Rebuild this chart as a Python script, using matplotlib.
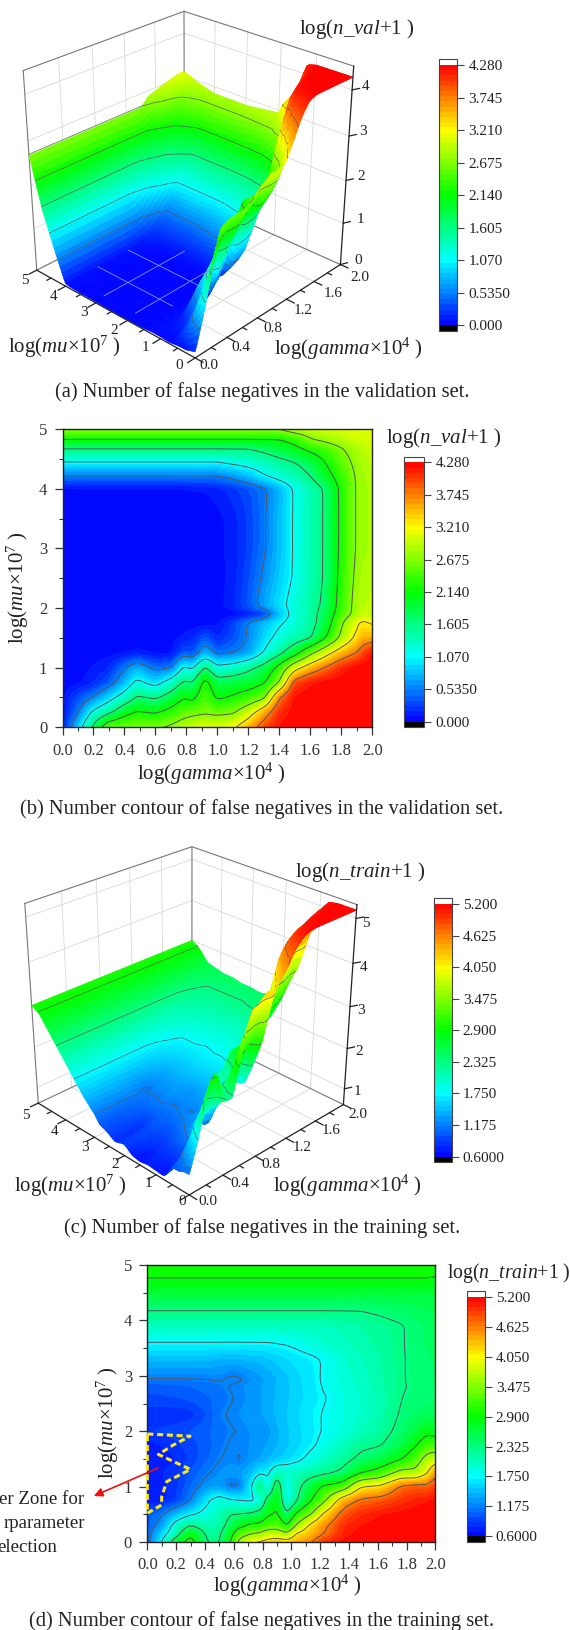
import numpy as np
import matplotlib
matplotlib.use('Agg')
import matplotlib.pyplot as plt
from matplotlib.colors import LinearSegmentedColormap, Normalize
from mpl_toolkits.mplot3d import proj3d
from mpl_toolkits.mplot3d.art3d import Poly3DCollection

plt.rcParams['font.family'] = ['Liberation Serif', 'DejaVu Serif']
plt.rcParams['mathtext.fontset'] = 'custom'
plt.rcParams['mathtext.rm'] = 'Liberation Serif'
plt.rcParams['mathtext.it'] = 'Liberation Serif:italic'
plt.rcParams['mathtext.bf'] = 'Liberation Serif:bold'

# ---------------- data ----------------
gamma_val = [0, .1, .2, .3, .4, .48, .6, .7, .78, .84, .92, 1.0, 1.1, 1.2, 1.3, 1.4, 1.5, 1.6, 1.7, 1.8, 1.9, 1.94, 2.0]
mu_val = [0, .25, .5, .75, 1, 1.25, 1.5, 1.75, 1.9, 2.05, 2.5, 3, 3.5, 4, 4.22, 4.45, 4.67, 4.83, 5]
n_val = [
    [.11, .86, 1.71, 2.57, 2.62, 2.64, 2.65, 2.76, 2.91, 3.0, 3.10, 3.10, 3.16, 3.53, 3.96, 4.22] + [4.27] * 7,
    [.05, .50, 1.18, 1.50, 1.98, 2.19, 2.10, 2.30, 2.51, 2.57, 2.62, 2.57, 2.62, 3.0, 3.53, 4.10, 4.25] + [4.27] * 6,
    [.05, .32, .54, .91, 1.28, 1.66, 1.55, 1.82, 2.12, 2.03, 2.46, 2.07, 2.19, 2.35, 2.57, 3.75, 4.25] + [4.27] * 6,
    [.03, .05, .16, .37, .77, 1.18, .91, 1.28, 1.66, 1.63, 2.30, 1.82, 1.87, 1.93, 2.09, 2.68, 3.96, 4.17] + [4.27] * 5,
    [.05, .05, .09, .16, .51, .75, .45, .50, 1.12, 1.02, 1.66, 1.18, 1.28, 1.50, 1.77, 2.30, 3.05, 3.48, 3.80, 4.12, 4.27, 4.27, 4.27],
    [.05, .05, .05, .05, .06, .11, .05, .05, .37, .32, .75, .45, .51, .66, 1.09, 1.48, 1.93, 2.57, 3.05, 3.48, 3.77, 3.96, 4.23],
    [.03, .03, .03, .03, .03, .03, .03, .05, .11, .16, .37, .16, .32, .57, .91, 1.20, 1.39, 1.55, 2.14, 2.78, 3.34, 3.53, 3.55],
    [.02] * 10 + [.03, .06, .27, .56, .80, 1.02, 1.23, 1.44, 1.87, 2.62, 3.16, 3.28, 3.16],
    [.02] * 12 + [.03, .11, .27, .80, 1.23, 1.44, 1.82, 2.41, 2.84, 2.95, 2.95],
    [.02] * 11 + [.04, .16, .37, .70, .96, 1.23, 1.44, 1.71, 2.35, 2.84, 2.90, 2.94],
    [.02] * 11 + [.04, .12, .32, .59, .86, 1.12, 1.39, 1.66, 2.30, 2.78, 2.85, 2.89],
    [.03] * 11 + [.05, .13, .27, .50, .80, 1.12, 1.39, 1.66, 2.25, 2.73, 2.80, 2.84],
    [.03] * 11 + [.05, .13, .27, .50, .80, 1.12, 1.39, 1.66, 2.25, 2.73, 2.80, 2.84],
    [.05] * 8 + [.06, .07, .08, .13, .21, .32, .48, .75, 1.12, 1.37, 1.66, 2.25, 2.73, 2.80, 2.84],
    [.53] * 12 + [.64, .80, 1.04, 1.23, 1.39, 1.61, 1.98, 2.35, 2.73, 2.80, 2.89],
    [1.065] * 12 + [1.16, 1.23, 1.34, 1.48, 1.61, 1.80, 2.16, 2.51, 2.78, 2.85, 2.94],
    [1.60] * 14 + [1.71, 1.87, 2.03, 2.25, 2.41, 2.65, 2.84, 2.90, 3.0],
    [2.135] * 16 + [2.30, 2.65, 2.78, 2.89, 3.0, 3.02, 3.05],
    [2.70] * 16 + [2.89, 2.94, 3.0, 3.05, 3.1, 3.1, 3.1],
]
val_ticks = [0, .535, 1.07, 1.605, 2.14, 2.675, 3.21, 3.745, 4.28]
val_tick_labels = ['0.000', '0.5350', '1.070', '1.605', '2.140', '2.675', '3.210', '3.745', '4.280']
val_contours = [.535, 1.07, 1.605, 2.14, 2.675, 3.21, 3.745]

gamma_train = [0, .1, .2, .3, .42, .5, .58, .64, .72, .78, .84, .9, .97, 1.04, 1.14, 1.22, 1.36, 1.48, 1.62, 1.76, 1.86, 1.94, 2.0]
mu_train = [0, .15, .3, .5, .75, 1, 1.25, 1.5, 1.75, 2, 2.3, 2.6, 2.8, 2.95, 3.3, 3.6, 3.9, 4.17, 4.45, 4.74, 5]
n_train = [
    [1.05, 1.75, 2.65, 3.1, 2.3, 2.3, 2.95, 3.6, 4.05, 4.1, 4.2, 4.3, 4.25, 4.4, 4.62, 4.95, 5.15] + [5.18] * 6,
    [1.05, 1.55, 2.1, 2.88, 2.2, 2.25, 2.75, 3.25, 3.45, 3.55, 3.75, 3.75, 3.55, 4.1, 4.35, 4.6, 5.05, 5.15] + [5.18] * 5,
    [1.0, 1.3, 1.95, 2.33, 2.05, 2.15, 2.5, 2.75, 3.0, 3.0, 3.2, 3.25, 2.9, 3.55, 4.2, 4.5, 5.0, 5.1] + [5.18] * 5,
    [1.0, 1.15, 1.45, 1.7, 1.9, 2.05, 2.33, 2.35, 2.4, 2.55, 2.85, 2.95, 2.4, 3.0, 3.5, 4.1, 4.8, 5.0, 5.1, 5.15, 5.18, 5.18, 5.18],
    [.68, .72, .88, 1.15, 1.72, 1.95, 1.8, 1.76, 1.68, 1.78, 2.6, 2.85, 1.8, 2.3, 2.9, 3.3, 4.4, 4.7, 4.8, 4.95, 5.05, 5.1, 5.15],
    [.7, .75, .85, 1.05, 1.3, 1.3, 1.12, 1.14, 1.72, 2.4, 1.74, 2.7, 1.7, 2.2, 2.65, 2.95, 3.15, 4.05, 4.15, 4.7, 4.8, 4.75, 4.9],
    [.72, .78, .85, .98, 1.16, 1.25, 1.3, 1.32, 1.45, 1.68, 1.72, 2.05, 2.0, 2.05, 2.15, 2.22, 2.4, 2.85, 3.1, 3.65, 3.6, 4.0, 4.5],
    [.68, .72, .78, .9, 1.05, 1.17, 1.22, 1.15, 1.28, 1.32, 1.42, 1.5, 1.58, 1.66, 1.85, 2.0, 2.2, 2.4, 2.55, 2.85, 3.2, 3.65, 3.8],
    [.72, .78, .85, .92, 1.02, 1.12, 1.2, 1.2, 1.25, 1.3, 1.35, 1.42, 1.5, 1.58, 1.7, 1.82, 2.05, 2.25, 2.3, 2.55, 2.85, 3.15, 3.15],
    [.88, .9, .93, .98, 1.05, 1.1, 1.16, 1.18, 1.25, 1.25, 1.3, 1.4, 1.5, 1.58, 1.68, 1.76, 1.9, 2.05, 2.2, 2.42, 2.6, 2.8, 2.75],
    [.8, .8, .8, .82, .98, 1.15, 1.2, 1.25, 1.3, 1.32, 1.38, 1.45, 1.52, 1.6, 1.7, 1.76, 1.88, 1.98, 2.1, 2.36, 2.45, 2.5, 2.52],
    [.95, .95, .97, 1.0, 1.05, 1.1, 1.16, 1.2, 1.28, 1.32, 1.38, 1.44, 1.5, 1.57, 1.66, 1.72, 1.88, 1.98, 2.1, 2.32, 2.38, 2.4, 2.42],
    [1.0, 1.0, 1.02, 1.05, 1.1, 1.13, 1.19, 1.22, 1.28, 1.32, 1.38, 1.44, 1.5, 1.58, 1.66, 1.76, 1.9, 2.0, 2.12, 2.3, 2.36, 2.4, 2.42],
    [1.17, 1.17, 1.17, 1.17, 1.18, 1.2, 1.13, 1.14, 1.25, 1.3, 1.35, 1.42, 1.5, 1.58, 1.66, 1.78, 1.92, 2.02, 2.14, 2.3, 2.38, 2.4, 2.45],
    [1.45] * 5 + [1.42, 1.4, 1.42, 1.45, 1.45, 1.5, 1.55, 1.6, 1.65, 1.7, 1.76, 1.95, 2.05, 2.15, 2.3, 2.38, 2.42, 2.45],
    [1.745] * 11 + [1.76, 1.78, 1.82, 1.9, 1.97, 2.05, 2.12, 2.2, 2.3, 2.4, 2.46, 2.5],
    [2.05] * 16 + [2.1, 2.15, 2.22, 2.30, 2.4, 2.45, 2.5],
    [2.32] * 18 + [2.38, 2.45, 2.5, 2.52, 2.55],
    [2.6] * 23,
    [2.895] * 22 + [2.88],
    [3.0] * 23,
]
train_ticks = [.6, 1.175, 1.75, 2.325, 2.9, 3.475, 4.05, 4.625, 5.2]
train_tick_labels = ['0.6000', '1.175', '1.750', '2.325', '2.900', '3.475', '4.050', '4.625', '5.200']
train_contours = [1.175, 1.75, 2.325, 2.9, 3.475, 4.05, 4.625]

# better-zone outline on panel (d)
zone_gamma = [0, .297, .18, .077, .30, .135, .10, .10, 0, 0]
zone_mu = [1.95, 1.91, 1.75, 1.58, 1.31, 1.09, .82, .67, .52, 1.95]

gamma_ticks = [0, .4, .8, 1.2, 1.6, 2.0]
mu_ticks = [0, 1, 2, 3, 4, 5]

# ---------------- figure ----------------
W, H = 570, 1630
LBL = 15
CAP = 14.8
fig = plt.figure(figsize=(W / 100, H / 100), dpi=100)
cmap = LinearSegmentedColormap.from_list(
    'rb', [(0, 0, 1), (0, 1, 1), (0, 1, 0), (1, 1, 0), (1, 0, 0)], N=256)
cmap.set_under('black')
cmap.set_over('white')
TXT = '#222222'


def ftext(x, y, s, size=11, **kw):
    kw.setdefault('ha', 'center')
    kw.setdefault('va', 'center')
    fig.text(x / W, 1 - y / H, s, fontsize=size, color=TXT, **kw)


def axes_px(x0, y0, x1, y1):
    return fig.add_axes([x0 / W, 1 - y1 / H, (x1 - x0) / W, (y1 - y0) / H])


def fine_grid(g, m, z, k=6, sig=.17):
    """the read grid on a finer mesh, rounded a little so the contours are as smooth as in the picture"""
    g, m, z = np.asarray(g, float), np.asarray(m, float), np.asarray(z, float)
    ig = np.linspace(0, len(g) - 1, (len(g) - 1) * k + 1)
    im = np.linspace(0, len(m) - 1, (len(m) - 1) * k + 1)
    gf = np.interp(ig, np.arange(len(g)), g)
    mf = np.interp(im, np.arange(len(m)), m)
    zf = np.array([np.interp(ig, np.arange(len(g)), r) for r in z])
    zf = np.array([np.interp(im, np.arange(len(m)), c) for c in zf.T]).T
    r = int(np.ceil(3 * sig * k))
    ker = np.exp(-.5 * (np.arange(-r, r + 1) / (sig * k)) ** 2)
    ker /= ker.sum()
    pad = np.pad(zf, r, mode='edge')
    pad = np.apply_along_axis(lambda v: np.convolve(v, ker, 'same'), 0, pad)
    pad = np.apply_along_axis(lambda v: np.convolve(v, ker, 'same'), 1, pad)
    return gf, mf, pad[r:-r, r:-r]


def colorbar(cs, box, ticks, labels):
    cax = axes_px(*box)
    main = (box[3] - box[1]) - 2 * 5.7
    cb = fig.colorbar(cs, cax=cax, ticks=ticks, extend='both', extendrect=True,
                      extendfrac=5.7 / main, spacing='proportional', drawedges=False)
    cb.ax.set_yticklabels(labels)
    cb.ax.tick_params(labelsize=11, length=5, width=.8, color='#444444',
                      labelcolor=TXT, pad=3)
    cb.ax.minorticks_off()
    cb.outline.set_edgecolor('#444444')
    cb.outline.set_linewidth(.8)


def contour_panel(box, g, m, z, lo, hi, lines, xtpad, ytpad):
    ax = axes_px(*box)
    levels = np.linspace(lo, hi, 51)
    gf, mf, zf = fine_grid(g, m, z)
    cs = ax.contourf(gf, mf, zf, levels=levels, cmap=cmap, extend='both')
    ax.contour(gf, mf, zf, levels=lines, colors='#555555', linewidths=.7)
    ax.set_xlim(0, 2)
    ax.set_ylim(0, 5)
    ax.set_xticks(np.arange(0, 2.01, .2))
    ax.set_xticks(np.arange(.1, 2, .2), minor=True)
    ax.set_yticks(range(6))
    ax.set_yticks(np.arange(.5, 5, 1), minor=True)
    ax.set_xticklabels([f'{v:.1f}' for v in np.arange(0, 2.01, .2)])
    ax.tick_params(labelsize=12, length=6, width=.9, colors='#333333', direction='out')
    ax.tick_params(axis='x', pad=xtpad)
    ax.tick_params(axis='y', pad=ytpad)
    ax.tick_params(which='minor', length=3, width=.8, colors='#333333')
    for s in ax.spines.values():
        s.set_linewidth(1.0)
        s.set_edgecolor('#222222')
    return ax, cs


def fit_view(ax, lims, targets):
    """choose the camera and position so the box corners land where the picture has them"""
    (x0, x1), (y0, y1), (z0, z1) = lims
    ax.set_xlim(x0, x1, view_margin=0)
    ax.set_ylim(y0, y1, view_margin=0)
    ax.set_zlim(z0, z1, view_margin=0)
    P = np.array([t[0] for t in targets], float)
    Q = np.array([t[1] for t in targets], float)
    Q[:, 1] = H - Q[:, 1]
    px = x0 + P[:, 0] * (x1 - x0)
    py = y0 + P[:, 1] * (y1 - y0)
    pz = z0 + P[:, 2] * (z1 - z0)
    best = None
    for elev in np.arange(20, 46, 2.5):
        for azim in np.arange(-142, -127, 2.5):
            for f in (.12, .16, .2, .25, .3, .36, .45, .6):
                for a in (.7, .8, .9, 1.0, 1.1, 1.2, 1.3):
                    ax.view_init(elev, azim)
                    ax.set_proj_type('persp', focal_length=f)
                    ax.set_box_aspect((1, 1, a))
                    nx, ny, _ = proj3d.proj_transform(px, py, pz, ax.get_proj())
                    n = len(nx)
                    A = np.zeros((2 * n, 3))
                    A[:n, 0] = nx
                    A[:n, 1] = 1
                    A[n:, 0] = ny
                    A[n:, 2] = 1
                    b = np.r_[Q[:, 0], Q[:, 1]]
                    sol, *_ = np.linalg.lstsq(A, b, rcond=None)
                    err = np.sum((A @ sol - b) ** 2)
                    if best is None or err < best[0]:
                        best = (err, elev, azim, f, a, sol)
    _, elev, azim, f, a, (s, tx, ty) = best
    ax.view_init(elev, azim)
    ax.set_proj_type('persp', focal_length=f)
    ax.set_box_aspect((1, 1, a))
    vx0, vx1 = ax.viewLim.intervalx
    vy0, vy1 = ax.viewLim.intervaly
    L = tx + s * vx0
    B = ty + s * vy0
    ax.set_position([L / W, B / H, s * (vx1 - vx0) / W, s * (vy1 - vy0) / H])


def surface_panel(targets, g, m, z, zlim, clim, lines, ztick_vals, floor_grid=False):
    ax = fig.add_axes([0, 0, .5, .2], projection='3d', computed_zorder=False)
    ax.set_axis_off()
    z0, zT = zlim
    fit_view(ax, ((0, 2), (0, 5), (z0, zT)), targets)
    wall = dict(color='#d9d9d9', lw=.6, zorder=1)
    edge = dict(color='#777777', lw=.8, zorder=1)
    dark = dict(color='#222222', lw=.9, zorder=7)
    for t in gamma_ticks[1:-1]:
        ax.plot([t, t], [5, 5], [z0, zT], **wall)
        ax.plot([t, t], [0, 5], [z0, z0], **wall)
    for t in mu_ticks[1:-1]:
        ax.plot([2, 2], [t, t], [z0, zT], **wall)
        ax.plot([0, 2], [t, t], [z0, z0], **wall)
    for t in ztick_vals:
        ax.plot([0, 2], [5, 5], [t, t], **wall)
        ax.plot([2, 2], [0, 5], [t, t], **wall)
    ax.plot([0, 2, 2], [5, 5, 0], [zT, zT, zT], **edge)
    ax.plot([0, 0], [5, 5], [z0, zT], **edge)
    ax.plot([2, 2], [5, 5], [z0, zT], **edge)
    ax.plot([0, 2, 2], [5, 5, 0], [z0, z0, z0], **edge)

    # surface, drawn together with its contour lines so that the ridge hides what lies behind it
    gf, mf, zf = fine_grid(g, m, z, k=4, sig=.15)
    GG, MM = np.meshgrid(gf, mf)
    quads = np.stack([
        np.stack([GG[:-1, :-1], MM[:-1, :-1], zf[:-1, :-1]], -1),
        np.stack([GG[:-1, 1:], MM[:-1, 1:], zf[:-1, 1:]], -1),
        np.stack([GG[1:, 1:], MM[1:, 1:], zf[1:, 1:]], -1),
        np.stack([GG[1:, :-1], MM[1:, :-1], zf[1:, :-1]], -1)], 2).reshape(-1, 4, 3)
    fc = cmap(Normalize(*clim)(quads[:, :, 2].mean(1)))

    tmpf, tmpa = plt.subplots()
    cs = tmpa.contour(gf, mf, zf, levels=lines)
    segs = []
    lift = np.array([-.014 * 2, -.014 * 5, .016 * (zT - z0)])
    for lev, paths in zip(lines, cs.allsegs):
        for p in paths:
            pts = np.c_[p, np.full(len(p), lev)] + lift
            for a, b in zip(pts[:-1], pts[1:]):
                segs.append([a, b, b, a])
    plt.close(tmpf)
    n_c = len(segs)
    verts = np.concatenate([quads, np.array(segs)], 0)
    seg_col = np.tile(matplotlib.colors.to_rgba('#5a5a5a'), (n_c, 1))
    faces = np.concatenate([fc, np.zeros((n_c, 4))], 0)
    edges = np.concatenate([fc, seg_col], 0)
    pc = Poly3DCollection(verts, facecolors=faces, edgecolors=edges, linewidths=.5,
                          zorder=5, zsort='average')
    ax.add_collection3d(pc)

    if floor_grid:
        pale = dict(color='#7f97ff', lw=.6, zorder=6)
        for t in (.4, .8):
            ax.plot([t, t], [1.6, 4], [.06, .06], **pale)
        for t in (2, 3):
            ax.plot([.1, 1.15], [t, t], [.06, .06], **pale)

    # axis lines and ticks
    ax.plot([0, 0, 2], [5, 0, 0], [z0, z0, z0], **dark)
    ax.plot([2, 2], [0, 0], [z0, zT], **dark)
    for t in mu_ticks:
        ax.plot([0, -.09], [t, t], [z0, z0], **dark)
    for t in np.arange(.5, 5, 1):
        ax.plot([0, -.05], [t, t], [z0, z0], **dark)
    for t in gamma_ticks:
        ax.plot([t, t], [0, -.22], [z0, z0], **dark)
    for t in np.arange(.2, 2, .4):
        ax.plot([t, t], [0, -.12], [z0, z0], **dark)
    for t in ztick_vals:
        ax.plot([2, 2.07], [0, -.07], [t, t], **dark)
    return ax


# ---------------- panel (b): contour, validation set ----------------
ax_b, cs_b = contour_panel((62.5, 429.3, 372.4, 727.3), gamma_val, mu_val, n_val, 0, 4.28, val_contours, 5, 5)
colorbar(cs_b, (404.4, 456.7, 424.4, 727.3), val_ticks, val_tick_labels)
ftext(211, 774, 'log($\\mathit{gamma}$×10$^{4}$ )', LBL)
ftext(18, 588, 'log($\\mathit{mu}$×10$^{7}$ )', LBL, rotation=90)
ftext(443.6, 437.7, 'log($\\mathit{n\\_val}$+1 )', LBL)
ftext(262, 809, '(b) Number contour of false negatives in the validation set.', CAP)

# ---------------- panel (d): contour, training set ----------------
ax_d, cs_d = contour_panel((147.3, 1265, 435.3, 1542), gamma_train, mu_train, n_train, .6, 5.2, train_contours, 5, 5)
ax_d.plot(zone_gamma, zone_mu, color='#ffe51e', lw=2.2, ls=(0, (2, 1.2)), clip_on=False, zorder=6)
colorbar(cs_d, (466.5, 1291.3, 484.7, 1542), train_ticks, train_tick_labels)
ftext(287, 1585.7, 'log($\\mathit{gamma}$×10$^{4}$ )', LBL)
ftext(108, 1422.7, 'log($\\mathit{mu}$×10$^{7}$ )', LBL, rotation=90)
ftext(508.5, 1272.7, 'log($\\mathit{n\\_train}$+1 )', 14.2)
ftext(262, 1621, '(d) Number contour of false negatives in the training set.', CAP)
ftext(84, 1500, 'er Zone for', 13.6, ha='right')
ftext(85, 1524, 'rparameter', 13.6, ha='right')
ftext(57, 1547, 'election', 13.6, ha='right')
fig.add_artist(matplotlib.patches.FancyArrowPatch(
    (158.2 / W, 1 - 1468 / H), (93.8 / W, 1 - 1496 / H), transform=fig.transFigure,
    arrowstyle='-|>', mutation_scale=13, color='#f01010', lw=1.2, shrinkA=0, shrinkB=0, zorder=8))

# ---------------- panel (a): surface, validation set ----------------
targets_a = [((0, 0, 0), (191.6, 355)), ((0, 1, 0), (35.3, 270.7)), ((1, 0, 0), (344.4, 266.7)),
             ((0, 1, 1), (24.4, 71.7)), ((1, 1, 1), (186.5, 8.3)), ((1, 0, 1), (351, 68.3))]
surface_panel(targets_a, gamma_val, mu_val, n_val, (0, 4.5), (0, 4.28), val_contours, [0, 1, 2, 3, 4], floor_grid=True)
colorbar(cs_b, (439.3, 59.3, 457.5, 331), val_ticks, val_tick_labels)
sx, sy = 1 / 2.75, 1 / 3
for s, (x, y) in zip('543210', [(68, 840), (148, 888), (230, 938), (313, 990), (400, 1042), (492, 1097)]):
    ftext(x * sx, y * sy, s)
for s, (x, y) in zip(['0.0', '0.4', '0.8', '1.2', '1.6', '2.0'],
                     [(575, 1097), (663, 1042), (750, 985), (835, 932), (915, 880), (990, 832)]):
    ftext(x * sx, y * sy, s)
for s, (x, y) in zip('43210', [(1005, 258), (998, 395), (993, 528), (990, 658), (985, 782)]):
    ftext(x * sx, y * sy, s)
ftext(980 * sx, 88 * sy, 'log($\\mathit{n\\_val}$+1 )', LBL)
ftext(178 * sx, 1040 * sy, 'log($\\mathit{mu}$×10$^{7}$ )', LBL)
ftext(957 * sx, 1048 * sy, 'log($\\mathit{gamma}$×10$^{4}$ )', LBL)
ftext(262, 392, '(a) Number of false negatives in the validation set.', CAP)

# ---------------- panel (c): surface, training set ----------------
targets_c = [((0, 0, 0), (192.7, 1191.7)), ((0, 1, 0), (35.3, 1106)), ((1, 0, 0), (345.5, 1105)),
             ((0, 1, 1), (27.3, 906.7)), ((1, 1, 1), (188.4, 843)), ((1, 0, 1), (355.3, 905))]
surface_panel(targets_c, gamma_train, mu_train, n_train, (.6, 5.3), (.6, 5.2), train_contours, [1, 2, 3, 4, 5])
colorbar(cs_d, (433.5, 898.3, 451.6, 1162.3), train_ticks, train_tick_labels)
y0c = 850
for s, (x, y) in zip('543210', [(70, 797), (150, 845), (233, 893), (318, 945), (407, 1000), (500, 1055)]):
    ftext(x * sx, y0c + y * sy, s)
for s, (x, y) in zip(['0.0', '0.4', '0.8', '1.2', '1.6', '2.0'],
                     [(572, 1055), (660, 1000), (745, 945), (830, 892), (910, 843), (985, 793)]):
    ftext(x * sx, y0c + y * sy, s)
for s, (x, y) in zip('54321', [(1005, 222), (1000, 352), (993, 482), (987, 605), (982, 725)]):
    ftext(x * sx, y0c + y * sy, s)
ftext(990 * sx, y0c + 65 * sy, 'log($\\mathit{n\\_train}$+1 )', LBL)
ftext(195 * sx, y0c + 1007 * sy, 'log($\\mathit{mu}$×10$^{7}$ )', LBL)
ftext(955 * sx, y0c + 1007 * sy, 'log($\\mathit{gamma}$×10$^{4}$ )', LBL)
ftext(262, 1228, '(c) Number of false negatives in the training set.', CAP)

fig.savefig('out.png', dpi=100)
